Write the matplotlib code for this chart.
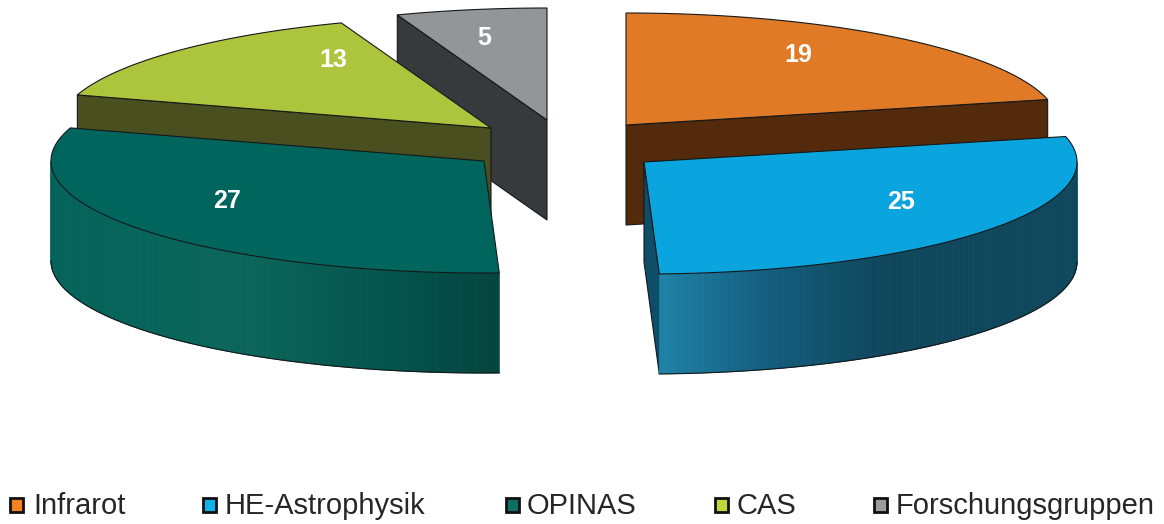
import numpy as np
import matplotlib
matplotlib.use("Agg")
import matplotlib.pyplot as plt
from matplotlib.colors import to_rgb
from matplotlib.patches import Polygon, Rectangle

plt.rcParams['font.family'] = ['Liberation Sans', 'DejaVu Sans']

categories = ["Infrarot", "HE-Astrophysik", "OPINAS", "CAS", "Forschungsgruppen"]
values = [19, 25, 27, 13, 5]

# look of the slices
top_colors = ["#e07a26", "#0aa5df", "#00655c", "#adc53c", "#939598"]
side_colors = ["#532a0c", "#0f4e68", "#03524b", "#4a4f20", "#363a3d"]
legend_colors = ["#f58220", "#10b0e8", "#0b6f63", "#bfd73a", "#9a9c9e"]
apex = [(626, 125), (644, 162), (484, 161), (491, 128), (547, 120)]
label_pos = [(798, 55), (901, 202), (227, 201), (333, 60), (484, 38)]
legend_box_x = [10, 203, 506, 715, 874]
legend_text_x = [33, 225, 526.5, 736, 896]

RX = 433
RY = 112
DEPTH = 100
EDGE = "#14181a"

# wall shading, colour stops along x
wall_stops = {
    1: ([659, 760, 880, 1076], ["#1f82a8", "#155f80", "#0f475c", "#0f475c"]),
    2: ([50, 250, 400, 500], ["#03635a", "#0c655a", "#03524b", "#06443f"]),
}


def rim(i, angle):
    # angle in degrees, clockwise from 12 o'clock
    a = np.radians(angle)
    return apex[i][0] + RX * np.sin(a), apex[i][1] - RY * np.cos(a)


def draw_wall(ax, i, start, end):
    xs_stop, cols = wall_stops[i]
    rgb = np.array([to_rgb(c) for c in cols])
    angles = np.linspace(start, end, 90)
    for a0, a1 in zip(angles[:-1], angles[1:]):
        x0, y0 = rim(i, a0)
        x1, y1 = rim(i, a1)
        mid = (x0 + x1) / 2
        col = [np.interp(mid, xs_stop, rgb[:, k]) for k in range(3)]
        ax.add_patch(Polygon([(x0, y0), (x1, y1), (x1, y1 + DEPTH), (x0, y0 + DEPTH)],
                             fc=col, ec=col, lw=0.6, zorder=i_order[i]))
    arc = np.linspace(start, end, 90)
    bx, by = zip(*[rim(i, a) for a in arc])
    ax.plot(bx, np.array(by) + DEPTH, color=EDGE, lw=0.8, zorder=i_order[i] + 0.1)


def draw_radial(ax, i, angle):
    x, y = rim(i, angle)
    ax0, ay0 = apex[i]
    ax.add_patch(Polygon([(ax0, ay0), (x, y), (x, y + DEPTH), (ax0, ay0 + DEPTH)],
                         fc=side_colors[i], ec=EDGE, lw=0.8, zorder=i_order[i]))


def draw_top(ax, i, start, end):
    pts = [apex[i]] + [rim(i, a) for a in np.linspace(start, end, 120)]
    ax.add_patch(Polygon(pts, fc=top_colors[i], ec=EDGE, lw=0.8, zorder=i_order[i] + 0.2))


# back slices first, the two big ones sit in front
i_order = {4: 1, 3: 2, 0: 3, 2: 4, 1: 5}

fig = plt.figure(figsize=(11.64, 5.24), dpi=100)
ax = fig.add_axes([0, 0, 1, 1])
ax.set_xlim(0, 1164)
ax.set_ylim(524, 0)
ax.axis("off")

edges = np.concatenate([[0], np.cumsum(values)]) / sum(values) * 360

for i in range(5):
    start, end = edges[i], edges[i + 1]
    if i == 0:
        draw_radial(ax, i, end)
    elif i == 1:
        draw_radial(ax, i, end)
        draw_wall(ax, i, max(start, 90), end)
    elif i == 2:
        draw_wall(ax, i, start, 270)
    else:
        draw_radial(ax, i, start)
    draw_top(ax, i, start, end)
    ax.text(label_pos[i][0], label_pos[i][1], str(values[i]), color="white",
            fontsize=18, fontweight="bold", ha="center", va="center", zorder=10)

for i, name in enumerate(categories):
    ax.add_patch(Rectangle((legend_box_x[i], 497.5), 12.5, 14, fc=legend_colors[i],
                           ec="#111111", lw=2, zorder=10))
    ax.text(legend_text_x[i], 514, name, color="#262626", fontsize=21,
            ha="left", va="baseline", zorder=10)

fig.savefig("out.png", dpi=100)
